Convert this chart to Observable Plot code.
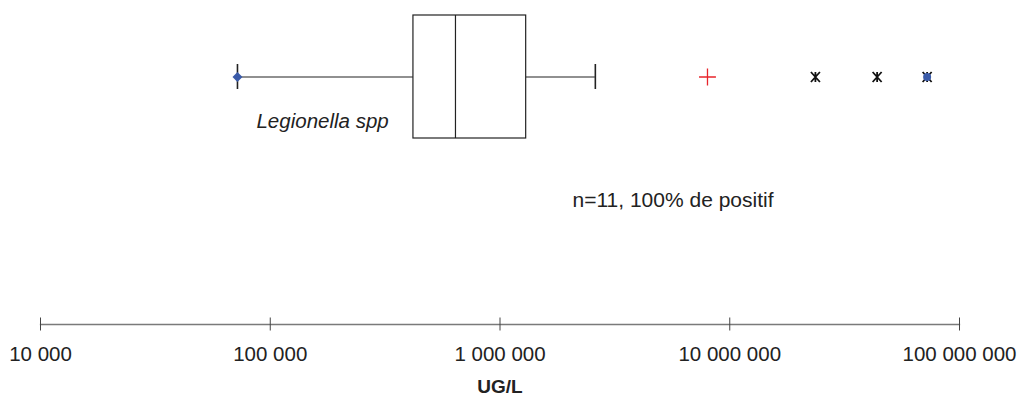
<!DOCTYPE html>
<html>
<head>
<meta charset="utf-8">
<script src="https://cdn.jsdelivr.net/npm/d3@7"></script>
<script src="https://cdn.jsdelivr.net/npm/@observablehq/plot@0.6"></script>
<style>
  html, body { margin: 0; padding: 0; background: #fff; }
  #chart svg { display: block; }
</style>
</head>
<body>
<div id="chart"></div>
<script>
// ---- data ----
const categories = ["Legionella spp"];
const minimum = [72000];
const q1 = [420000];
const median = [640000];
const q3 = [1300000];
const upperWhisker = [2600000];
const redPlus = [8000000];
const outliers = [23600000, 43800000];
const maximum = [72300000];
const tickValues = [1e4, 1e5, 1e6, 1e7, 1e8];
const sampleNote = "n=11, 100% de positif";
const axisLabel = "UG/L";

const box = categories.map((c, i) => ({
  cat: c, min: minimum[i], q1: q1[i], median: median[i], q3: q3[i], hi: upperWhisker[i],
  plus: redPlus[i], max: maximum[i]
}));
const outlierRows = outliers.map(v => ({cat: categories[0], v}));

const font = "Liberation Sans, Arial, Helvetica, sans-serif";
const fmt = d => d3.format(",")(d).replace(/,/g, " ");

// X with a vertical bar (star marker of the reference)
const starX = {
  draw(ctx, size) {
    const k = Math.sqrt(size / Math.PI);
    const w = 0.9 * k;
    ctx.moveTo(-w, -k); ctx.lineTo(w, k);
    ctx.moveTo(-w, k); ctx.lineTo(w, -k);
    ctx.moveTo(0, -k); ctx.lineTo(0, k);
  }
};

const chart = Plot.plot({
  width: 1018,
  height: 397,
  marginLeft: 40,
  marginRight: 59,
  marginTop: 0,
  marginBottom: 73,
  style: {fontFamily: font, color: "#222", background: "#fff"},
  x: {type: "log", domain: [1e4, 1e8], axis: null},
  y: {type: "band", domain: categories, range: [15, 138], padding: 0, axis: null},
  marks: [
    // axis line
    Plot.frame({anchor: "bottom", stroke: "#7a7a7a", strokeWidth: 1.3}),
    // axis ticks (centered on the line)
    Plot.axisX(tickValues, {tickSize: 13, dy: -6.5, fill: "none", stroke: "#444", strokeWidth: 1}),
    // axis labels
    Plot.axisX(tickValues, {tickSize: 0, tickPadding: 22, tickFormat: fmt, fontSize: 20.5, fill: "#222", label: null}),
    Plot.text([axisLabel], {frameAnchor: "bottom", dy: 62, fontSize: 19, fontWeight: "bold", fill: "#222", lineAnchor: "middle"}),
    // whiskers
    Plot.ruleY(box, {y: "cat", x1: "min", x2: "q1", stroke: "#222", strokeWidth: 1.2}),
    Plot.ruleY(box, {y: "cat", x1: "q3", x2: "hi", stroke: "#222", strokeWidth: 1.2}),
    Plot.tickX(box, {x: "min", y: "cat", insetTop: 49, insetBottom: 49, stroke: "#222", strokeWidth: 1.6}),
    Plot.tickX(box, {x: "hi", y: "cat", insetTop: 49, insetBottom: 49, stroke: "#222", strokeWidth: 1.6}),
    // box
    Plot.barX(box, {x1: "q1", x2: "q3", y: "cat", fill: "#fff", stroke: "#222", strokeWidth: 1.2}),
    Plot.tickX(box, {x: "median", y: "cat", stroke: "#222", strokeWidth: 1.2}),
    // minimum marker
    Plot.dot(box, {x: "min", y: "cat", symbol: "diamond2", r: 4.5, fill: "#3b5ba9", stroke: "none"}),
    // red plus
    Plot.dot(box, {x: "plus", y: "cat", symbol: "plus", r: 5.5, stroke: "#e8242b", strokeWidth: 1.3}),
    // outliers
    Plot.dot(outlierRows, {x: "v", y: "cat", symbol: starX, r: 5, stroke: "#111", strokeWidth: 1.8}),
    Plot.dot(box, {x: "max", y: "cat", symbol: starX, r: 5, stroke: "#111", strokeWidth: 1.8}),
    Plot.dot(box, {x: "max", y: "cat", symbol: "circle", r: 4, fill: "#3b5ba9", stroke: "none"}),
    // labels
    Plot.text(box, {x: "min", y: "cat", text: "cat", dx: 19, dy: 44, textAnchor: "start", fontSize: 20.5, fontStyle: "italic", fill: "#222"}),
    Plot.text([sampleNote], {frameAnchor: "top-left", dx: 532, dy: 200, textAnchor: "start", lineAnchor: "middle", fontSize: 21, fill: "#222"})
  ]
});
document.getElementById("chart").appendChild(chart);
</script>
</body>
</html>
